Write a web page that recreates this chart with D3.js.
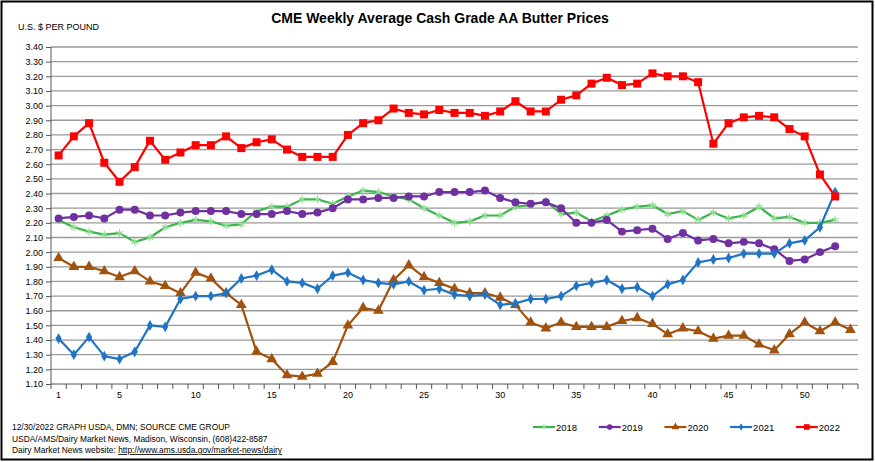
<!DOCTYPE html>
<html><head><meta charset="utf-8">
<script src="https://cdn.jsdelivr.net/npm/d3@7"></script>
<style>
html,body{margin:0;padding:0;background:#fff;}
svg{display:block;}
text{font-family:Arial,"Liberation Sans",sans-serif;fill:#000;}
.narrow{font-family:"Liberation Sans Narrow","Arial Narrow",Arial,sans-serif;}
</style></head><body>
<script>
const weeks = [1,2,3,4,5,6,7,8,9,10,11,12,13,14,15,16,17,18,19,20,21,22,23,24,25,26,27,28,29,30,31,32,33,34,35,36,37,38,39,40,41,42,43,44,45,46,47,48,49,50,51,52,53];
const xLabels = [1,5,10,15,20,25,30,35,40,45,50];
const yTicks = [1.10,1.20,1.30,1.40,1.50,1.60,1.70,1.80,1.90,2.00,2.10,2.20,2.30,2.40,2.50,2.60,2.70,2.80,2.90,3.00,3.10,3.20,3.30,3.40];

const y2018 = [2.22,2.17,2.14,2.12,2.13,2.07,2.10,2.17,2.20,2.22,2.21,2.18,2.19,2.28,2.31,2.31,2.36,2.36,2.33,2.38,2.42,2.41,2.38,2.36,2.30,2.25,2.20,2.21,2.25,2.25,2.31,2.32,2.35,2.26,2.27,2.21,2.25,2.29,2.31,2.32,2.26,2.28,2.22,2.27,2.23,2.25,2.31,2.23,2.24,2.20,2.20,2.22];
const y2019 = [2.23,2.24,2.25,2.23,2.29,2.29,2.25,2.25,2.27,2.28,2.28,2.28,2.26,2.26,2.26,2.28,2.26,2.27,2.30,2.36,2.36,2.37,2.37,2.38,2.38,2.41,2.41,2.41,2.42,2.37,2.34,2.33,2.34,2.30,2.20,2.20,2.22,2.14,2.15,2.16,2.09,2.13,2.08,2.09,2.06,2.07,2.06,2.02,1.94,1.95,2.00,2.04];
const y2020 = [1.96,1.90,1.90,1.87,1.83,1.87,1.80,1.77,1.72,1.86,1.82,1.72,1.64,1.32,1.27,1.16,1.15,1.17,1.25,1.50,1.62,1.60,1.81,1.91,1.83,1.79,1.75,1.72,1.72,1.69,1.64,1.52,1.48,1.52,1.49,1.49,1.49,1.53,1.55,1.51,1.44,1.48,1.46,1.41,1.43,1.43,1.37,1.33,1.44,1.52,1.46,1.52,1.47];
const y2021 = [1.41,1.30,1.42,1.29,1.27,1.32,1.50,1.49,1.68,1.70,1.70,1.72,1.82,1.84,1.88,1.80,1.79,1.75,1.84,1.86,1.81,1.79,1.78,1.80,1.74,1.75,1.71,1.70,1.71,1.64,1.65,1.68,1.68,1.70,1.77,1.79,1.81,1.75,1.76,1.70,1.78,1.81,1.93,1.95,1.96,1.99,1.99,1.99,2.06,2.08,2.17,2.41];
const y2022 = [2.66,2.79,2.88,2.61,2.48,2.58,2.76,2.63,2.68,2.73,2.73,2.79,2.71,2.75,2.77,2.70,2.65,2.65,2.65,2.80,2.88,2.90,2.98,2.95,2.94,2.97,2.95,2.95,2.93,2.96,3.03,2.96,2.96,3.04,3.07,3.15,3.19,3.14,3.15,3.22,3.20,3.20,3.16,2.74,2.88,2.92,2.93,2.92,2.84,2.79,2.53,2.38];

const seriesNames = ["2018","2019","2020","2021","2022"];
const seriesValues = [y2018,y2019,y2020,y2021,y2022];
const colors = ["#3cb44b","#7030a0","#a0520f","#1f74c6","#ff0000"];
const markerFill = ["#8ee08e","#7030a0","#a0520f","#1f74c6","#ff0000"];
const markerType = [d3.symbolAsterisk, d3.symbolCircle, d3.symbolTriangle, d3.symbolDiamond, d3.symbolSquare];
const markerSize = [40, 50, 50, 34, 64];

const W = 875, H = 462;
const svg = d3.select("body").append("svg").attr("width",W).attr("height",H);
svg.append("rect").attr("x",1.5).attr("y",1.5).attr("width",W-4).attr("height",H-4)
  .attr("fill","#fff").attr("stroke","#000").attr("stroke-width",2);

const L = 51, R = 858, T = 47, B = 384;
const x = d3.scaleBand().domain(weeks).range([L,R]);
const y = d3.scaleLinear().domain([1.10,3.40]).range([B,T]);
const cx = w => x(w) + x.bandwidth()/2;

// gridlines
svg.append("g").selectAll("line").data(yTicks.slice(1)).join("line")
  .attr("x1",L).attr("x2",R).attr("y1",d=>y(d)).attr("y2",d=>y(d))
  .attr("stroke","#9a9a9a").attr("stroke-width",1.3);

// y axis
const ya = svg.append("g").attr("transform",`translate(${L},0)`)
  .call(d3.axisLeft(y).tickValues(yTicks).tickSize(5).tickPadding(3).tickFormat(d3.format(".2f")));
ya.select(".domain").attr("stroke","#555").attr("d",`M0,${T}V${B}`);
ya.selectAll(".tick line").attr("stroke","#555");
ya.selectAll("text").attr("font-size",9).attr("font-family","Arial, 'Liberation Sans', sans-serif").attr("fill","#222");

// x axis
const xa = svg.append("g").attr("transform",`translate(0,${B})`)
  .call(d3.axisBottom(x).tickValues(xLabels).tickSize(0).tickPadding(8));
xa.select(".domain").attr("stroke","#555").attr("d",`M${L},0H${R}`);
xa.selectAll("text").attr("font-size",9).attr("font-family","Arial, 'Liberation Sans', sans-serif").attr("fill","#222");
xa.selectAll(".tickB").data(weeks.concat(["end"])).join("line")
  .attr("x1",d=>d==="end"?R:x(d)).attr("x2",d=>d==="end"?R:x(d))
  .attr("y1",0).attr("y2",5).attr("stroke","#555");

// series
const line = d3.line().x((d,i)=>cx(weeks[i])).y(d=>y(d));
seriesValues.forEach((vals,k)=>{
  const g = svg.append("g");
  g.append("path").datum(vals).attr("d",line).attr("fill","none")
    .attr("stroke",colors[k]).attr("stroke-width",2.2).attr("stroke-linejoin","round");
  const sym = d3.symbol().type(markerType[k]).size(markerSize[k]);
  g.selectAll("path.m").data(vals).join("path").attr("class","m")
    .attr("transform",(d,i)=>`translate(${cx(weeks[i])},${y(d)})`)
    .attr("d",sym)
    .attr("fill",k===0?"none":markerFill[k])
    .attr("stroke",k===0?markerFill[0]:"none")
    .attr("stroke-width",1.2);
});

// title
svg.append("text").attr("x",440).attr("y",23).attr("text-anchor","middle")
  .attr("font-size",14).attr("font-weight","bold").text("CME Weekly Average Cash Grade AA Butter Prices");
svg.append("text").attr("x",18).attr("y",30).attr("font-size",9).text("U.S. $ PER POUND");

// footer
const foot = ["12/30/2022 GRAPH USDA, DMN; SOURCE CME GROUP",
  "USDA/AMS/Dairy Market News, Madison, Wisconsin, (608)422-8587"];
foot.forEach((t,i)=>svg.append("text").attr("class","narrow").attr("x",12).attr("y",430+i*11.5).attr("font-size",8.4).text(t));
const f3 = svg.append("text").attr("class","narrow").attr("x",12).attr("y",453).attr("font-size",8.4);
f3.append("tspan").text("Dairy Market News website: ");
f3.append("tspan").attr("text-decoration","underline").text("http://www.ams.usda.gov/market-news/dairy");

// legend
seriesNames.forEach((n,k)=>{
  const lx = 533 + k*65.7, ly = 427;
  const g = svg.append("g");
  g.append("line").attr("x1",lx).attr("x2",lx+22).attr("y1",ly).attr("y2",ly)
    .attr("stroke",colors[k]).attr("stroke-width",2.2);
  g.append("path").attr("transform",`translate(${lx+11},${ly})`)
    .attr("d",d3.symbol().type(markerType[k]).size(markerSize[k]*0.5))
    .attr("fill",k===0?"none":markerFill[k]).attr("stroke",k===0?markerFill[0]:"none");
  g.append("text").attr("class","narrow").attr("x",lx+23).attr("y",ly+3.5).attr("font-size",9.5).text(n);
});
</script>
</body></html>
